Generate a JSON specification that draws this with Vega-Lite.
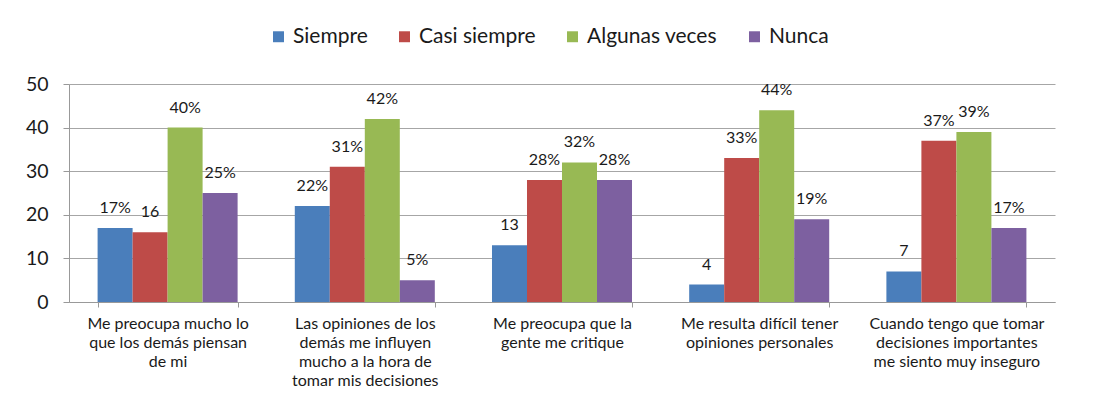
{
  "$schema": "https://vega.github.io/schema/vega-lite/v6.json",
  "width": 986,
  "height": 218,
  "autosize": {"type": "none"},
  "padding": {"left": 69, "top": 84, "right": 41, "bottom": 110},
  "background": "white",
  "config": {
    "font": "Lato",
    "view": {"stroke": null},
    "axis": {"labelFont": "Lato", "labelColor": "#1a1a1a"},
    "legend": {"labelFont": "Lato"}
  },
  "data": {
    "values": [
      {"categoria": "Me preocupa mucho lo|que los demás piensan|de mi", "serie": "Siempre", "valor": 17, "etiqueta": "17%"},
      {"categoria": "Me preocupa mucho lo|que los demás piensan|de mi", "serie": "Casi siempre", "valor": 16, "etiqueta": "16"},
      {"categoria": "Me preocupa mucho lo|que los demás piensan|de mi", "serie": "Algunas veces", "valor": 40, "etiqueta": "40%"},
      {"categoria": "Me preocupa mucho lo|que los demás piensan|de mi", "serie": "Nunca", "valor": 25, "etiqueta": "25%"},
      {"categoria": "Las opiniones de los|demás me influyen|mucho a la hora de|tomar mis decisiones", "serie": "Siempre", "valor": 22, "etiqueta": "22%"},
      {"categoria": "Las opiniones de los|demás me influyen|mucho a la hora de|tomar mis decisiones", "serie": "Casi siempre", "valor": 31, "etiqueta": "31%"},
      {"categoria": "Las opiniones de los|demás me influyen|mucho a la hora de|tomar mis decisiones", "serie": "Algunas veces", "valor": 42, "etiqueta": "42%"},
      {"categoria": "Las opiniones de los|demás me influyen|mucho a la hora de|tomar mis decisiones", "serie": "Nunca", "valor": 5, "etiqueta": "5%"},
      {"categoria": "Me preocupa que la|gente me critique", "serie": "Siempre", "valor": 13, "etiqueta": "13"},
      {"categoria": "Me preocupa que la|gente me critique", "serie": "Casi siempre", "valor": 28, "etiqueta": "28%"},
      {"categoria": "Me preocupa que la|gente me critique", "serie": "Algunas veces", "valor": 32, "etiqueta": "32%"},
      {"categoria": "Me preocupa que la|gente me critique", "serie": "Nunca", "valor": 28, "etiqueta": "28%"},
      {"categoria": "Me resulta difícil tener|opiniones personales", "serie": "Siempre", "valor": 4, "etiqueta": "4"},
      {"categoria": "Me resulta difícil tener|opiniones personales", "serie": "Casi siempre", "valor": 33, "etiqueta": "33%"},
      {"categoria": "Me resulta difícil tener|opiniones personales", "serie": "Algunas veces", "valor": 44, "etiqueta": "44%"},
      {"categoria": "Me resulta difícil tener|opiniones personales", "serie": "Nunca", "valor": 19, "etiqueta": "19%"},
      {"categoria": "Cuando tengo que tomar|decisiones importantes|me siento muy inseguro", "serie": "Siempre", "valor": 7, "etiqueta": "7"},
      {"categoria": "Cuando tengo que tomar|decisiones importantes|me siento muy inseguro", "serie": "Casi siempre", "valor": 37, "etiqueta": "37%"},
      {"categoria": "Cuando tengo que tomar|decisiones importantes|me siento muy inseguro", "serie": "Algunas veces", "valor": 39, "etiqueta": "39%"},
      {"categoria": "Cuando tengo que tomar|decisiones importantes|me siento muy inseguro", "serie": "Nunca", "valor": 17, "etiqueta": "17%"}
    ]
  },
  "encoding": {
    "x": {
      "field": "categoria",
      "type": "nominal",
      "sort": null,
      "scale": {"paddingInner": 0.29, "paddingOuter": 0.145},
      "axis": {
        "title": null,
        "labelAngle": 0,
        "labelExpr": "split(datum.label, '|')",
        "labelFontSize": 16,
        "labelLineHeight": 19,
        "labelPadding": 8,
        "labelLimit": 0,
        "tickBand": "extent",
        "tickSize": 5,
        "tickColor": "#999999",
        "domainColor": "#999999",
        "labelBaseline": "top"
      }
    },
    "xOffset": {
      "field": "serie",
      "type": "nominal",
      "scale": {"domain": ["Siempre", "Casi siempre", "Algunas veces", "Nunca"], "paddingInner": 0, "paddingOuter": 0}
    },
    "y": {
      "field": "valor",
      "type": "quantitative",
      "scale": {"domain": [0, 50], "nice": false},
      "axis": {
        "title": null,
        "values": [0, 10, 20, 30, 40, 50],
        "labelFontSize": 19.5,
        "labelPadding": 15,
        "tickSize": 6,
        "tickColor": "#999999",
        "domainColor": "#999999",
        "gridColor": "#a6a6a6",
        "grid": true
      }
    }
  },
  "layer": [
    {
      "mark": {"type": "bar"},
      "encoding": {
        "color": {
          "field": "serie",
          "type": "nominal",
          "scale": {
            "domain": ["Siempre", "Casi siempre", "Algunas veces", "Nunca"],
            "range": ["#4A7EBB", "#BE4B48", "#98B954", "#7D60A0"]
          },
          "legend": {
            "title": null,
            "orient": "none",
            "direction": "horizontal",
            "legendX": 199,
            "legendY": -58,
            "symbolType": "square",
            "symbolSize": 120,
            "symbolStrokeWidth": 0,
            "labelFontSize": 21,
            "labelColor": "#1a1a1a",
            "labelOffset": 4,
            "columnPadding": 26
          }
        }
      }
    },
    {
      "mark": {"type": "text", "baseline": "middle", "dy": -20, "fontSize": 16, "color": "#1a1a1a"},
      "encoding": {
        "text": {"field": "etiqueta"}
      }
    }
  ]
}
